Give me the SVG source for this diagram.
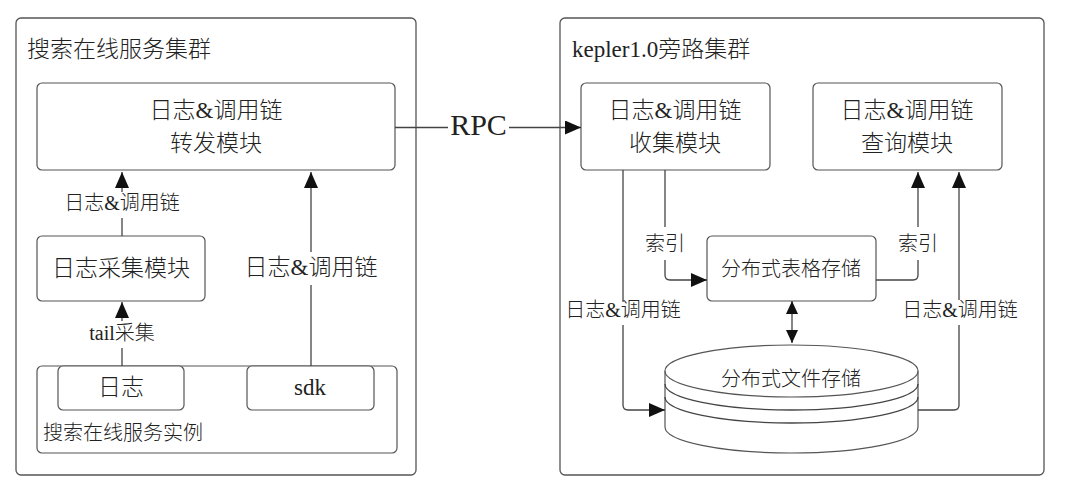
<svg xmlns="http://www.w3.org/2000/svg" width="1080" height="487" viewBox="0 0 1080 487">
<style>
.box{fill:#fff;stroke:#555;stroke-width:1.2}
.cl{fill:#fff;stroke:#555;stroke-width:1.3}
.ln{fill:none;stroke:#444;stroke-width:1.3}
text{font-family:"Liberation Serif","Noto Sans CJK SC",serif;fill:#222;font-weight:300}
.t23{font-size:23px}
.t20{font-size:20px}
.m{text-anchor:middle}
</style>
<defs>
<marker id="ah" markerUnits="userSpaceOnUse" markerWidth="16" markerHeight="14" refX="16" refY="7" orient="auto-start-reverse">
<path d="M0,0 L16,7 L0,14 z" fill="#111"/>
</marker>
<marker id="ahs" markerUnits="userSpaceOnUse" markerWidth="13" markerHeight="12" refX="13" refY="6" orient="auto-start-reverse">
<path d="M0,0 L13,6 L0,12 z" fill="#111"/>
</marker>
</defs>
<rect width="1080" height="487" fill="#fff"/>

<g id="cluster-left">
<rect class="cl" x="16" y="18" width="400" height="457" rx="5"/>
<text class="t23" x="27" y="57">搜索在线服务集群</text>
</g>
<g id="cluster-right">
<rect class="cl" x="560" y="18" width="484" height="457" rx="5"/>
<text class="t23" x="572" y="57">kepler1.0旁路集群</text>
</g>

<g id="forward">
<rect class="box" x="37" y="83" width="358" height="87" rx="5"/>
<text class="t23 m" x="216" y="118">日志&amp;调用链</text>
<text class="t23 m" x="216" y="151">转发模块</text>
</g>
<g id="collect-agent">
<rect class="box" x="37" y="236" width="168" height="65" rx="5"/>
<text class="t23 m" x="121" y="276">日志采集模块</text>
</g>
<g id="instance">
<rect class="box" x="37" y="366" width="360" height="87" rx="5"/>
<text class="t20" x="43" y="440">搜索在线服务实例</text>
</g>
<g id="log">
<rect class="box" x="58" y="366" width="126" height="44" rx="5"/>
<text class="t23 m" x="121" y="395">日志</text>
</g>
<g id="sdk">
<rect class="box" x="247" y="366" width="127" height="44" rx="5"/>
<text class="t23 m" x="310" y="395">sdk</text>
</g>

<g id="collector">
<rect class="box" x="581" y="83" width="189" height="87" rx="5"/>
<text class="t23 m" x="675" y="118">日志&amp;调用链</text>
<text class="t23 m" x="675" y="151">收集模块</text>
</g>
<g id="query">
<rect class="box" x="813" y="83" width="189" height="87" rx="5"/>
<text class="t23 m" x="907" y="118">日志&amp;调用链</text>
<text class="t23 m" x="907" y="151">查询模块</text>
</g>
<g id="table-store">
<rect class="box" x="707" y="236" width="169" height="65" rx="5"/>
<text class="t20 m" x="791" y="276">分布式表格存储</text>
</g>
<g id="file-store">
<path class="box" d="M665,371 V427 A126.5,26 0 0 0 918,427 V371"/>
<ellipse class="box" cx="791.5" cy="371" rx="126.5" ry="26"/>
<path class="ln" d="M665,384 A126.5,26 0 0 0 918,384"/>
<path class="ln" d="M665,397 A126.5,26 0 0 0 918,397"/>
<text class="t20 m" x="791" y="386">分布式文件存储</text>
</g>

<g id="connectors">
<path class="ln" d="M122,236 V218"/>
<path class="ln" d="M122,192 V172" marker-end="url(#ah)"/>
<text class="t20 m" x="122" y="210">日志&amp;调用链</text>

<path class="ln" d="M122,366 V348"/>
<path class="ln" d="M122,321 V302" marker-end="url(#ah)"/>
<text class="t20 m" x="122" y="340">tail采集</text>

<path class="ln" d="M311,366 V285"/>
<path class="ln" d="M311,252 V172" marker-end="url(#ah)"/>
<text class="t23 m" x="311" y="275">日志&amp;调用链</text>

<path class="ln" d="M395,127.5 H448"/>
<path class="ln" d="M509,127.5 H581" marker-end="url(#ah)"/>
<text x="478.5" y="135" font-size="30" class="m">RPC</text>

<path class="ln" d="M623,170 V302"/>
<path class="ln" d="M623,325 V405 Q623,410 628,410 H665" marker-end="url(#ah)"/>
<text class="t20 m" x="623" y="317">日志&amp;调用链</text>

<path class="ln" d="M665,170 V227"/>
<path class="ln" d="M665,260 V275 Q665,280 670,280 H707" marker-end="url(#ah)"/>
<text class="t20 m" x="665" y="251">索引</text>

<path class="ln" d="M876,280 H913 Q918,280 918,275 V260"/>
<path class="ln" d="M918,227 V172" marker-end="url(#ah)"/>
<text class="t20 m" x="918" y="251">索引</text>

<path class="ln" d="M918,410 H954 Q959,410 959,405 V325"/>
<path class="ln" d="M959,300 V172" marker-end="url(#ah)"/>
<text class="t20 m" x="960" y="317">日志&amp;调用链</text>

<path class="ln" d="M792,301 V343" marker-start="url(#ahs)" marker-end="url(#ahs)"/>
</g>
</svg>
